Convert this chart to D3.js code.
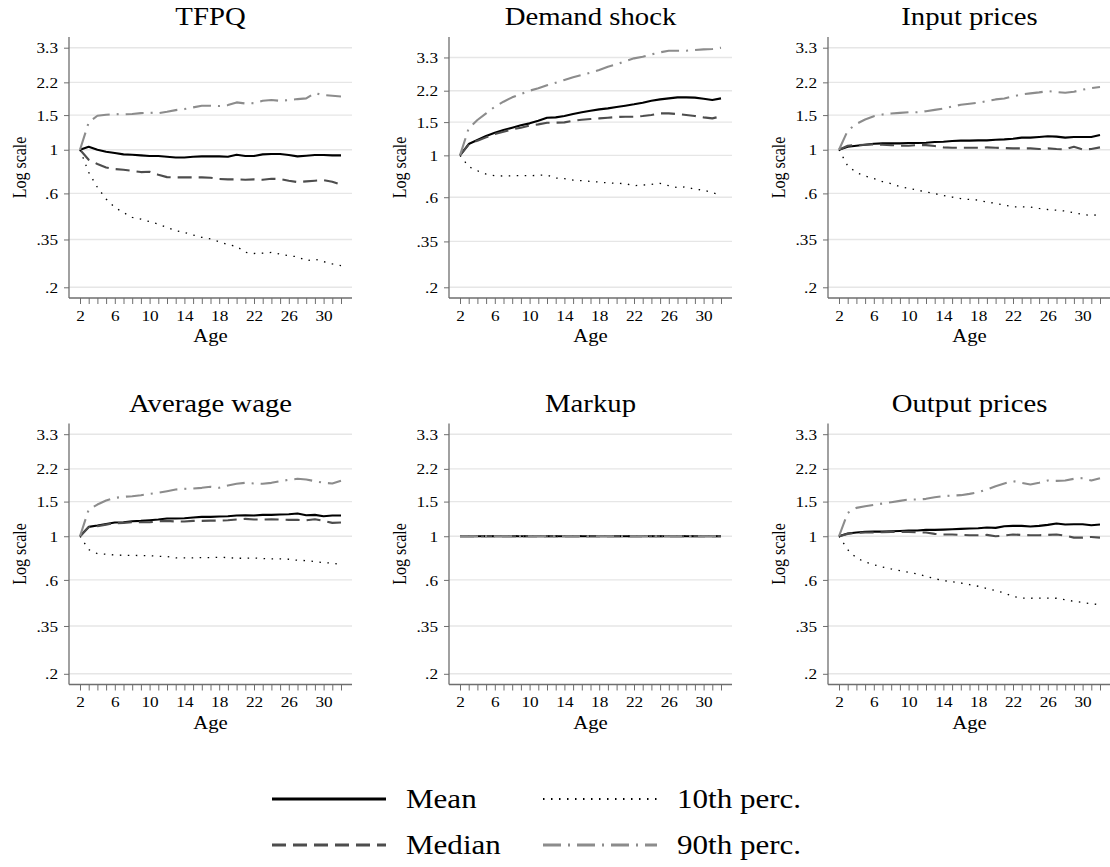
<!DOCTYPE html>
<html>
<head>
<meta charset="utf-8">
<script src="https://cdnjs.cloudflare.com/ajax/libs/d3/7.8.5/d3.min.js"></script>
<style>
  body { margin: 0; background: #fff; }
  svg { display: block; }
  text { font-family: "Liberation Serif", "Times New Roman", Times, serif; fill: #000; }
</style>
</head>
<body>
<div id="chart"></div>
<script>
//ages on the x axis and the labelled ticks
var ages = [2,3,4,5,6,7,8,9,10,11,12,13,14,15,16,17,18,19,20,21,22,23,24,25,26,27,28,29,30,31,32];
var xTickLabels = [2,6,10,14,18,22,26,30];
var yTickValues = [0.2,0.35,0.6,1,1.5,2.2,3.3];
var yTickText = [".2",".35",".6","1","1.5","2.2","3.3"];
var seriesNames = ["Mean","Median","10th perc.","90th perc."];
var panelTitles = ["TFPQ","Demand shock","Input prices","Average wage","Markup","Output prices"];

//TFPQ
var tfpqMean = [1.00,1.036,1.00,0.977,0.962,0.947,0.943,0.936,0.929,0.929,0.921,0.914,0.914,0.921,0.925,0.925,0.925,0.921,0.943,0.929,0.929,0.947,0.951,0.951,0.940,0.925,0.932,0.940,0.940,0.936,0.936];
var tfpqMedian = [1.00,0.890,0.846,0.813,0.798,0.791,0.782,0.770,0.773,0.746,0.726,0.724,0.724,0.724,0.724,0.721,0.710,0.707,0.707,0.704,0.707,0.704,0.712,0.710,0.696,0.685,0.691,0.696,0.701,0.688,0.664];
var tfpqP10 = [1.00,0.767,0.644,0.562,0.509,0.480,0.453,0.444,0.431,0.419,0.403,0.388,0.380,0.369,0.359,0.352,0.341,0.329,0.323,0.301,0.297,0.298,0.301,0.295,0.289,0.286,0.273,0.278,0.270,0.263,0.258];
var tfpqP90 = [1.00,1.377,1.488,1.506,1.518,1.512,1.518,1.535,1.541,1.535,1.560,1.590,1.609,1.641,1.673,1.673,1.667,1.686,1.740,1.719,1.726,1.774,1.788,1.774,1.788,1.809,1.823,1.940,1.895,1.881,1.866];

//Demand shock
var demandMean = [1.00,1.148,1.206,1.266,1.318,1.362,1.401,1.442,1.477,1.526,1.583,1.589,1.616,1.655,1.690,1.724,1.752,1.774,1.803,1.832,1.863,1.901,1.948,1.980,2.004,2.029,2.029,2.021,1.996,1.964,2.004];
var demandMedian = [1.00,1.139,1.196,1.245,1.297,1.335,1.373,1.401,1.436,1.459,1.489,1.489,1.495,1.526,1.545,1.557,1.570,1.583,1.596,1.602,1.602,1.616,1.635,1.669,1.669,1.655,1.635,1.616,1.589,1.570,1.609];
var demandP10 = [1.00,0.871,0.829,0.796,0.780,0.777,0.780,0.780,0.780,0.784,0.787,0.758,0.752,0.740,0.734,0.728,0.722,0.714,0.711,0.708,0.691,0.696,0.702,0.711,0.691,0.674,0.682,0.661,0.655,0.634,0.617];
var demandP90 = [1.00,1.390,1.539,1.669,1.810,1.924,2.029,2.113,2.200,2.264,2.348,2.426,2.506,2.589,2.664,2.740,2.831,2.949,3.034,3.160,3.264,3.331,3.427,3.512,3.584,3.584,3.584,3.613,3.642,3.657,3.717];

//Input prices
var inputMean = [1.00,1.036,1.048,1.061,1.073,1.077,1.077,1.077,1.082,1.082,1.086,1.094,1.099,1.107,1.112,1.112,1.116,1.116,1.125,1.129,1.138,1.152,1.152,1.161,1.170,1.166,1.152,1.161,1.161,1.161,1.189];
var inputMedian = [1.00,1.048,1.056,1.061,1.065,1.061,1.056,1.048,1.048,1.056,1.056,1.044,1.028,1.024,1.024,1.024,1.024,1.028,1.024,1.020,1.016,1.016,1.016,1.008,1.016,1.008,1.004,1.036,1.004,1.008,1.028];
var inputP10 = [1.00,0.828,0.766,0.736,0.714,0.689,0.673,0.649,0.637,0.624,0.610,0.598,0.586,0.575,0.564,0.559,0.555,0.542,0.534,0.523,0.513,0.513,0.511,0.503,0.497,0.493,0.488,0.478,0.469,0.463,0.469];
var inputP90 = [1.00,1.251,1.353,1.424,1.481,1.510,1.528,1.540,1.552,1.552,1.570,1.595,1.620,1.659,1.692,1.712,1.732,1.767,1.802,1.823,1.866,1.911,1.934,1.956,1.987,1.964,1.949,1.972,2.019,2.059,2.083];

//Average wage
var wageMean = [1.00,1.116,1.133,1.155,1.174,1.178,1.192,1.197,1.206,1.216,1.230,1.230,1.235,1.245,1.254,1.254,1.259,1.264,1.274,1.279,1.274,1.284,1.284,1.289,1.294,1.304,1.279,1.284,1.264,1.274,1.274];
var wageMedian = [1.00,1.111,1.124,1.146,1.165,1.169,1.178,1.178,1.178,1.192,1.197,1.188,1.188,1.197,1.197,1.201,1.201,1.206,1.216,1.225,1.216,1.216,1.220,1.216,1.211,1.211,1.206,1.220,1.197,1.169,1.174];
var wageP10 = [1.00,0.855,0.816,0.810,0.803,0.800,0.800,0.797,0.797,0.791,0.788,0.776,0.776,0.776,0.779,0.779,0.782,0.779,0.773,0.773,0.776,0.770,0.767,0.767,0.764,0.755,0.752,0.743,0.734,0.732,0.717];
var wageP90 = [1.00,1.367,1.449,1.519,1.567,1.586,1.598,1.617,1.642,1.662,1.694,1.728,1.741,1.748,1.762,1.783,1.762,1.811,1.847,1.868,1.854,1.847,1.868,1.905,1.935,1.958,1.942,1.905,1.868,1.854,1.913];

//Markup
var markupMean = [1,1,1,1,1,1,1,1,1,1,1,1,1,1,1,1,1,1,1,1,1,1,1,1,1,1,1,1,1,1,1];
var markupMedian = [1,1,1,1,1,1,1,1,1,1,1,1,1,1,1,1,1,1,1,1,1,1,1,1,1,1,1,1,1,1,1];
var markupP10 = [1,1,1,1,1,1,1,1,1,1,1,1,1,1,1,1,1,1,1,1,1,1,1,1,1,1,1,1,1,1,1];
var markupP90 = [1,1,1,1,1,1,1,1,1,1,1,1,1,1,1,1,1,1,1,1,1,1,1,1,1,1,1,1,1,1,1];

//Output prices
var outputMean = [1.00,1.032,1.044,1.052,1.056,1.056,1.060,1.064,1.069,1.069,1.077,1.077,1.081,1.086,1.090,1.094,1.098,1.107,1.103,1.124,1.129,1.129,1.120,1.129,1.142,1.160,1.147,1.151,1.151,1.137,1.147];
var outputMedian = [1.00,1.028,1.040,1.044,1.044,1.048,1.052,1.052,1.052,1.048,1.044,1.028,1.020,1.020,1.016,1.012,1.012,1.016,1.000,1.008,1.020,1.016,1.012,1.012,1.016,1.020,1.008,0.984,0.984,0.992,0.984];
var outputP10 = [1.00,0.855,0.776,0.740,0.717,0.698,0.682,0.669,0.656,0.643,0.626,0.609,0.595,0.588,0.579,0.568,0.557,0.542,0.529,0.515,0.495,0.485,0.484,0.485,0.485,0.484,0.476,0.467,0.461,0.454,0.449];
var outputP90 = [1.00,1.314,1.394,1.421,1.444,1.466,1.489,1.513,1.537,1.537,1.549,1.579,1.598,1.611,1.617,1.642,1.675,1.728,1.797,1.854,1.905,1.868,1.832,1.868,1.920,1.912,1.920,1.958,1.973,1.920,1.973];

var panelSeries = [
  [tfpqMean, tfpqMedian, tfpqP10, tfpqP90],
  [demandMean, demandMedian, demandP10, demandP90],
  [inputMean, inputMedian, inputP10, inputP90],
  [wageMean, wageMedian, wageP10, wageP90],
  [markupMean, markupMedian, markupP10, markupP90],
  [outputMean, outputMedian, outputP10, outputP90]
];

//line styles: mean, median, 10th, 90th
var lineStyles = [
  {color: "#000000", width: 2.1, dash: null},
  {color: "#4d4d4d", width: 2.1, dash: "14,7"},
  {color: "#000000", width: 1.3, dash: "1.5,6.5"},
  {color: "#8c8c8c", width: 2.1, dash: "18,7,2,7"}
];

var width = 1110;
var height = 867;
var SX = 1.15; //the picture is a bit stretched sideways, so is the text
var serif = '"Liberation Serif", "Times New Roman", Times, serif';

var panelLeft = [69, 449, 828];
var panelTop = [37, 423.5];
var panelW = 283;
var panelH = 261;
var pad = 10.7;   //inner padding of the plot region
var axisColour = "#6e6e6e";

var svg = d3.select("#chart").append("svg")
  .attr("width", width)
  .attr("height", height);

//text helper, keeps the horizontal stretch
function addText(parent, x, y, str, size, anchor, rotate) {
  return parent.append("g")
    .attr("transform", "translate(" + x + "," + y + ") scale(" + SX + ",1)" + (rotate ? " rotate(-90)" : ""))
    .append("text")
    .attr("text-anchor", anchor)
    .style("font-family", serif)
    .style("font-size", size + "px")
    .text(str);
}

panelSeries.forEach(function(series, p) {
  var col = p % 3;
  var row = Math.floor(p / 3);
  var g = svg.append("g")
    .attr("class", "panel")
    .attr("transform", "translate(" + panelLeft[col] + "," + panelTop[row] + ")");

  var allVals = d3.merge(series);
  var lo = Math.min(0.2, d3.min(allVals));
  var hi = Math.max(3.3, d3.max(allVals));

  var x = d3.scaleLinear()
    .domain([2, 32])
    .range([11, panelW - 11]);

  var y = d3.scaleLog()
    .domain([lo, hi])
    .range([panelH - pad, pad]);

  //gridlines
  g.selectAll(".grid")
    .data(yTickValues)
    .enter()
    .append("line")
    .attr("class", "grid")
    .attr("x1", 0)
    .attr("x2", panelW)
    .attr("y1", function(d) { return y(d); })
    .attr("y2", function(d) { return y(d); })
    .attr("stroke", "#e6e6e6")
    .attr("stroke-width", 1.4);

  //y axis
  var gy = g.append("g")
    .call(d3.axisLeft(y)
      .tickValues(yTickValues)
      .tickFormat(function(d, i) { return yTickText[i]; })
      .tickSize(5)
      .tickSizeOuter(0));
  gy.attr("font-family", null);
  gy.select(".domain").remove();
  gy.selectAll("line").attr("stroke", axisColour);
  gy.selectAll("text")
    .attr("x", -11 / SX)
    .attr("dy", "0.34em")
    .attr("transform", "scale(" + SX + ",1)")
    .style("font-size", "15px")
    .style("font-family", serif);

  //x axis
  var gx = g.append("g")
    .attr("transform", "translate(0," + panelH + ")")
    .call(d3.axisBottom(x)
      .tickValues(ages)
      .tickFormat(function(d) { return xTickLabels.indexOf(d) >= 0 ? d : ""; })
      .tickSize(6)
      .tickSizeOuter(0));
  gx.attr("font-family", null);
  gx.select(".domain").remove();
  gx.selectAll("line").attr("stroke", axisColour);
  gx.selectAll("text")
    .attr("y", 23)
    .attr("dy", 0)
    .attr("transform", "scale(" + SX + ",1)")
    .style("font-size", "15px")
    .style("font-family", serif);

  //axis lines
  g.append("line")
    .attr("x1", 0).attr("x2", 0)
    .attr("y1", 0).attr("y2", panelH)
    .attr("stroke", axisColour)
    .attr("stroke-width", 1.3);
  g.append("line")
    .attr("x1", 0).attr("x2", panelW)
    .attr("y1", panelH).attr("y2", panelH)
    .attr("stroke", axisColour)
    .attr("stroke-width", 1.3);

  //series lines
  var line = d3.line()
    .x(function(d, i) { return x(ages[i]); })
    .y(function(d) { return y(d); });

  series.forEach(function(vals, s) {
    g.append("path")
      .datum(vals)
      .attr("d", line)
      .attr("fill", "none")
      .attr("stroke", lineStyles[s].color)
      .attr("stroke-width", lineStyles[s].width)
      .attr("stroke-dasharray", lineStyles[s].dash)
      .attr("stroke-linejoin", "round");
  });

  //titles and labels
  addText(g, panelW / 2, -12, panelTitles[p], 25, "middle", false);
  addText(g, panelW / 2, panelH + 44, "Age", 18, "middle", false);
  addText(g, -43, panelH / 2, "Log scale", 16, "middle", true);
});

//legend
var legendX = [272, 543];
var legendY = [799, 845];
var legendLen = 114;
seriesNames.forEach(function(name, s) {
  var cx = legendX[s < 2 ? 0 : 1];
  var cy = legendY[s % 2];
  svg.append("line")
    .attr("x1", cx).attr("x2", cx + legendLen)
    .attr("y1", cy).attr("y2", cy)
    .attr("stroke", lineStyles[s].color)
    .attr("stroke-width", lineStyles[s].width + 0.8)
    .attr("stroke-dasharray", lineStyles[s].dash);
  addText(svg, cx + legendLen + 20, cy + 9, name, 27, "start", false);
});
</script>
</body>
</html>
